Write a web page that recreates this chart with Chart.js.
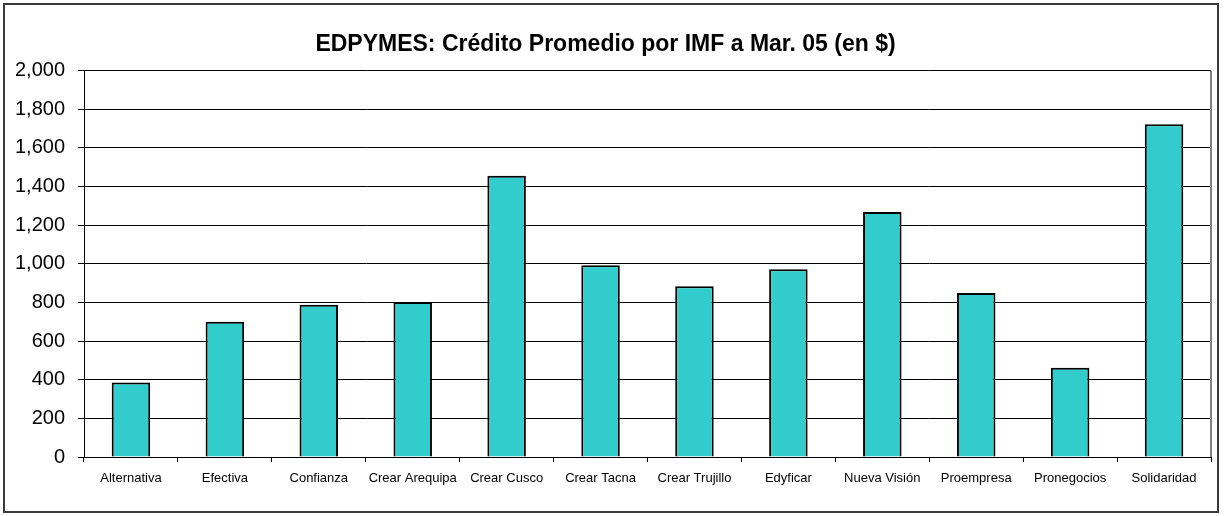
<!DOCTYPE html>
<html lang="es">
<head>
    <meta charset="UTF-8">
    <title>EDPYMES</title>
    <script src="https://cdn.jsdelivr.net/npm/chart.js@4/dist/chart.umd.min.js"></script>
    <style>
        body { margin: 0; background: #fff; }
        .wrap { position: relative; width: 1225px; height: 516px; }
    </style>
</head>
<body>
    <div class="wrap">
        <canvas id="myChart"></canvas>
    </div>

    <script>
      // datos
      const labels = ['Alternativa', 'Efectiva', 'Confianza', 'Crear Arequipa', 'Crear Cusco', 'Crear Tacna',
                      'Crear Trujillo', 'Edyficar', 'Nueva Visión', 'Proempresa', 'Pronegocios', 'Solidaridad'];
      const creditoPromedio = [385, 700, 788, 802, 1456, 992, 884, 972, 1268, 849, 462, 1722];
      const yMin = 0;
      const yMax = 2000;
      const yStep = 200;

      const fontFamily = '"Liberation Sans", Arial, sans-serif';

      // marco exterior y borde del area de trazado
      const framePlugin = {
        id: 'frame',
        beforeDraw(chart) {
          const ctx = chart.ctx;
          ctx.save();
          ctx.fillStyle = '#fff';
          ctx.fillRect(0, 0, chart.width, chart.height);
          ctx.strokeStyle = '#3a3a3a';
          ctx.lineWidth = 2;
          ctx.strokeRect(4, 4, 1214, 508);
          ctx.restore();
        },
        afterDatasetsDraw(chart) {
          const a = chart.chartArea;
          const ctx = chart.ctx;
          ctx.save();
          ctx.strokeStyle = '#808080';
          ctx.lineWidth = 2;
          ctx.beginPath();
          ctx.moveTo(a.right, a.top);
          ctx.lineTo(a.right, a.bottom);
          ctx.stroke();
          ctx.restore();
        }
      };

      const ctx = document.getElementById('myChart').getContext('2d');
      new Chart(ctx, {
        type: 'bar',
        data: {
          labels: labels,
          datasets: [{
            data: creditoPromedio,
            backgroundColor: '#33CCCC',
            borderColor: '#000',
            borderWidth: 2,
            barPercentage: 0.41,
            categoryPercentage: 1
          }]
        },
        options: {
          responsive: true,
          maintainAspectRatio: false,
          animation: false,
          layout: { padding: { top: 31, right: 14, bottom: 4, left: 0 } },
          plugins: {
            legend: { display: false },
            tooltip: { enabled: false },
            title: {
              display: true,
              text: 'EDPYMES: Crédito Promedio por IMF a Mar. 05 (en $)',
              color: '#000',
              font: { family: fontFamily, size: 23, weight: 'bold', lineHeight: 1.2 },
              padding: { top: 0, bottom: 12 }
            }
          },
          scales: {
            x: {
              grid: { display: true, drawOnChartArea: false, drawTicks: true, tickLength: 5, color: '#000', offset: true },
              border: { color: '#000', width: 1 },
              ticks: { color: '#000', font: { family: fontFamily, size: 13 }, padding: 9, maxRotation: 0, autoSkip: false },
              afterFit(scale) { scale.height = 55; }
            },
            y: {
              min: yMin,
              max: yMax,
              grid: { color: '#000', lineWidth: 1, tickLength: 6 },
              border: { color: '#000', width: 1 },
              ticks: {
                stepSize: yStep,
                color: '#000',
                font: { family: fontFamily, size: 20 },
                padding: 13,
                callback: v => v.toLocaleString('en-US')
              },
              afterFit(scale) { scale.width = 84; }
            }
          }
        },
        plugins: [framePlugin]
      });
    </script>
</body>
</html>
